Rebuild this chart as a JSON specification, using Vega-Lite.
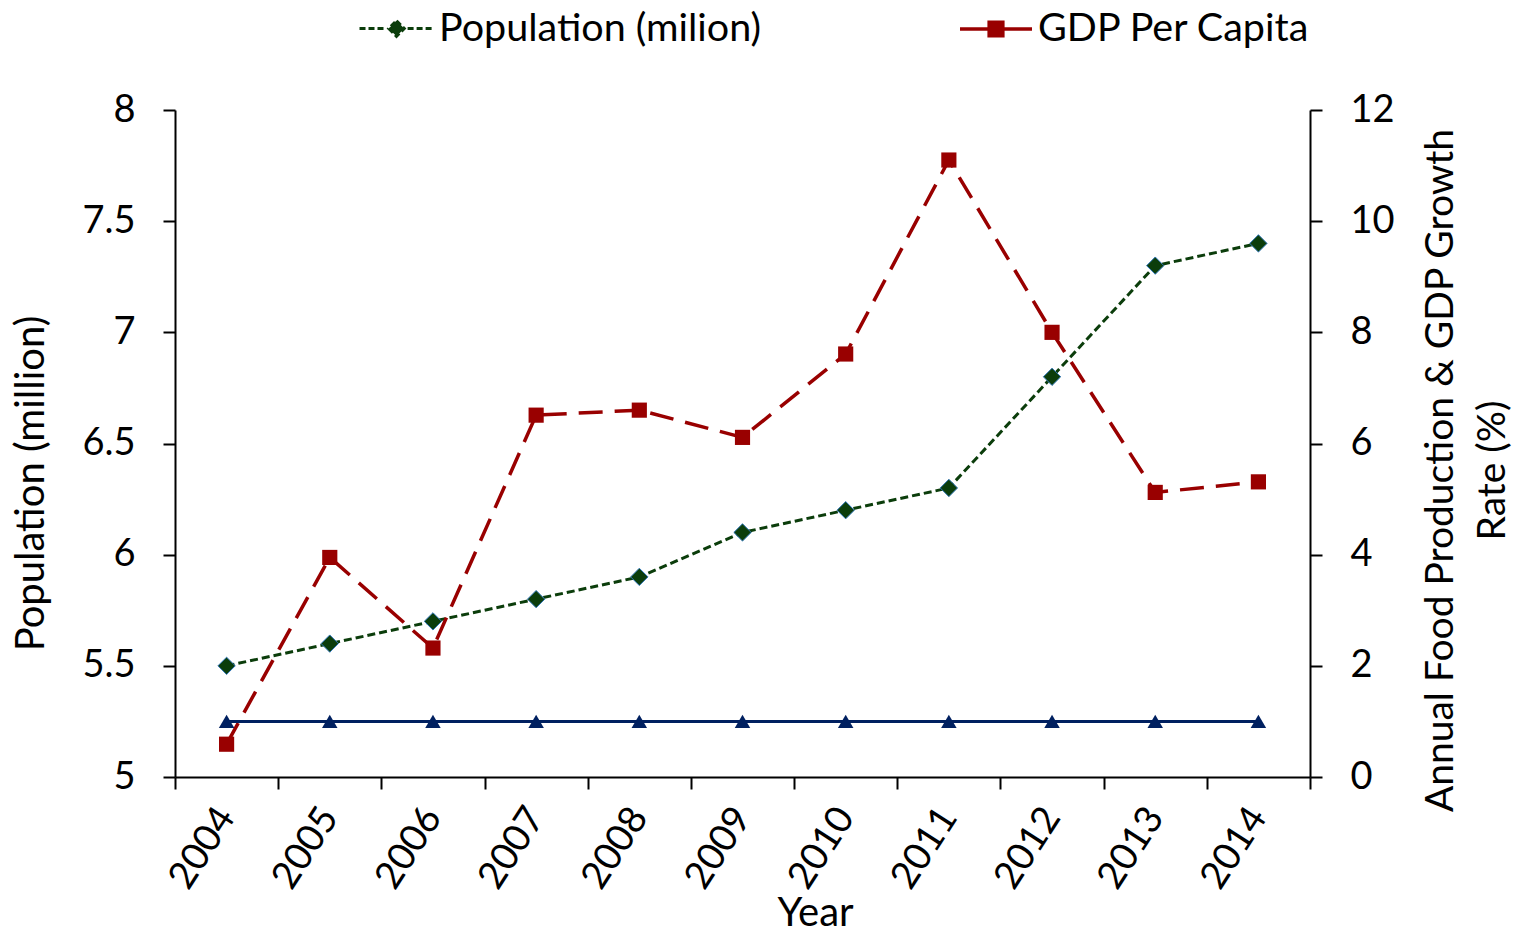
{
  "$schema": "https://vega.github.io/schema/vega-lite/v6.json",
  "width": 1135,
  "height": 667,
  "autosize": {"type": "none"},
  "padding": {"left": 175, "top": 110, "right": 208, "bottom": 159},
  "background": "white",
  "config": {
    "font": "Lato",
    "view": {"stroke": null},
    "axis": {
      "domainColor": "black",
      "domainWidth": 2,
      "tickColor": "black",
      "tickWidth": 2,
      "tickSize": 12,
      "labelFont": "Lato",
      "labelFontSize": 38,
      "labelColor": "black",
      "titleFont": "Lato",
      "titleFontSize": 40,
      "titleFontWeight": "normal",
      "titleColor": "black",
      "grid": false
    },
    "legend": {
      "labelFont": "Lato",
      "labelFontSize": 39.5,
      "labelColor": "black",
      "labelLimit": 800,
      "padding": 0
    },
    "style": {
      "popMarker": {"shape": "diamond"},
      "gdpMarker": {"shape": "square"},
      "foodMarker": {"shape": "triangle-up"}
    }
  },
  "data": {
    "values": [
      {"year": "2004", "population": 5.5, "gdp": 0.59, "food": 1.0},
      {"year": "2005", "population": 5.6, "gdp": 3.95, "food": 1.0},
      {"year": "2006", "population": 5.7, "gdp": 2.32, "food": 1.0},
      {"year": "2007", "population": 5.8, "gdp": 6.51, "food": 1.0},
      {"year": "2008", "population": 5.9, "gdp": 6.6, "food": 1.0},
      {"year": "2009", "population": 6.1, "gdp": 6.11, "food": 1.0},
      {"year": "2010", "population": 6.2, "gdp": 7.61, "food": 1.0},
      {"year": "2011", "population": 6.3, "gdp": 11.1, "food": 1.0},
      {"year": "2012", "population": 6.8, "gdp": 8.0, "food": 1.0},
      {"year": "2013", "population": 7.3, "gdp": 5.12, "food": 1.0},
      {"year": "2014", "population": 7.4, "gdp": 5.31, "food": 1.0}
    ]
  },
  "encoding": {
    "x": {
      "field": "year",
      "type": "ordinal",
      "bandPosition": 0.5,
      "scale": {"type": "band", "paddingInner": 0, "paddingOuter": 0},
      "axis": {
        "title": "Year",
        "labelAngle": -57,
        "tickBand": "extent",
        "labelPadding": 22,
        "titlePadding": -2,
        "titleX": 640
      }
    }
  },
  "layer": [
    {
      "layer": [
        {
          "mark": {"type": "line", "color": "#0b3d0b", "strokeWidth": 3, "strokeDash": [8, 4]},
          "encoding": {
            "y": {
              "field": "population",
              "type": "quantitative",
              "scale": {"domain": [5, 8], "nice": false, "zero": false},
              "axis": {
                "title": "Population (million)",
                "orient": "left",
                "values": [5, 5.5, 6, 6.5, 7, 7.5, 8],
                "format": "~g",
                "labelPadding": 28,
                "titlePadding": 30,
                "titleY": 373
              }
            }
          }
        },
        {
          "mark": {"type": "point", "filled": true, "size": 300, "opacity": 1, "style": "popMarker", "stroke": "#2e75b6", "strokeWidth": 1},
          "encoding": {
            "y": {"field": "population", "type": "quantitative"},
            "color": {
              "datum": "Population (milion)",
              "scale": {"range": ["#0b3d0b"]},
              "legend": {
                "title": null,
                "orient": "none",
                "legendX": 183,
                "legendY": -120,
                "symbolType": "M-1,0H-0.3M0.3,0H1M0,-0.21L0.21,0L0,0.21L-0.21,0Z",
                "symbolSize": 5476,
                "symbolStrokeColor": "#0b3d0b",
                "symbolStrokeWidth": 3,
                "symbolDash": [6, 3],
                "labelOffset": 4
              }
            }
          }
        }
      ]
    },
    {
      "layer": [
        {
          "mark": {"type": "line", "color": "#990000", "strokeWidth": 3.5, "strokeDash": [24, 12]},
          "encoding": {
            "y": {
              "field": "gdp",
              "type": "quantitative",
              "scale": {"domain": [0, 12], "nice": false},
              "axis": {
                "title": ["Annual Food Production & GDP Growth", "Rate (%)"],
                "orient": "right",
                "values": [0, 2, 4, 6, 8, 10, 12],
                "format": "d",
                "labelPadding": 28,
                "titleAngle": 270,
                "titleFontSize": 39,
                "titlePadding": 14,
                "titleLineHeight": 52,
                "titleY": 360
              }
            }
          }
        },
        {
          "mark": {"type": "point", "filled": true, "size": 230, "opacity": 1, "style": "gdpMarker"},
          "encoding": {
            "y": {"field": "gdp", "type": "quantitative"},
            "color": {
              "datum": "GDP Per Capita",
              "scale": {"range": ["#990000"]},
              "legend": {
                "title": null,
                "orient": "none",
                "legendX": 783,
                "legendY": -119,
                "symbolType": "M-1,0H1M-0.19,-0.19H0.19V0.19H-0.19Z",
                "symbolSize": 5184,
                "symbolStrokeColor": "#990000",
                "symbolStrokeWidth": 3.5,
                "labelOffset": 4
              }
            }
          }
        },
        {
          "mark": {"type": "line", "color": "#002060", "strokeWidth": 3},
          "encoding": {"y": {"field": "food", "type": "quantitative"}}
        },
        {
          "mark": {"type": "point", "filled": true, "size": 240, "opacity": 1, "color": "#002060", "style": "foodMarker"},
          "encoding": {"y": {"field": "food", "type": "quantitative"}}
        }
      ]
    }
  ],
  "resolve": {"scale": {"y": "independent", "color": "independent"}}
}
